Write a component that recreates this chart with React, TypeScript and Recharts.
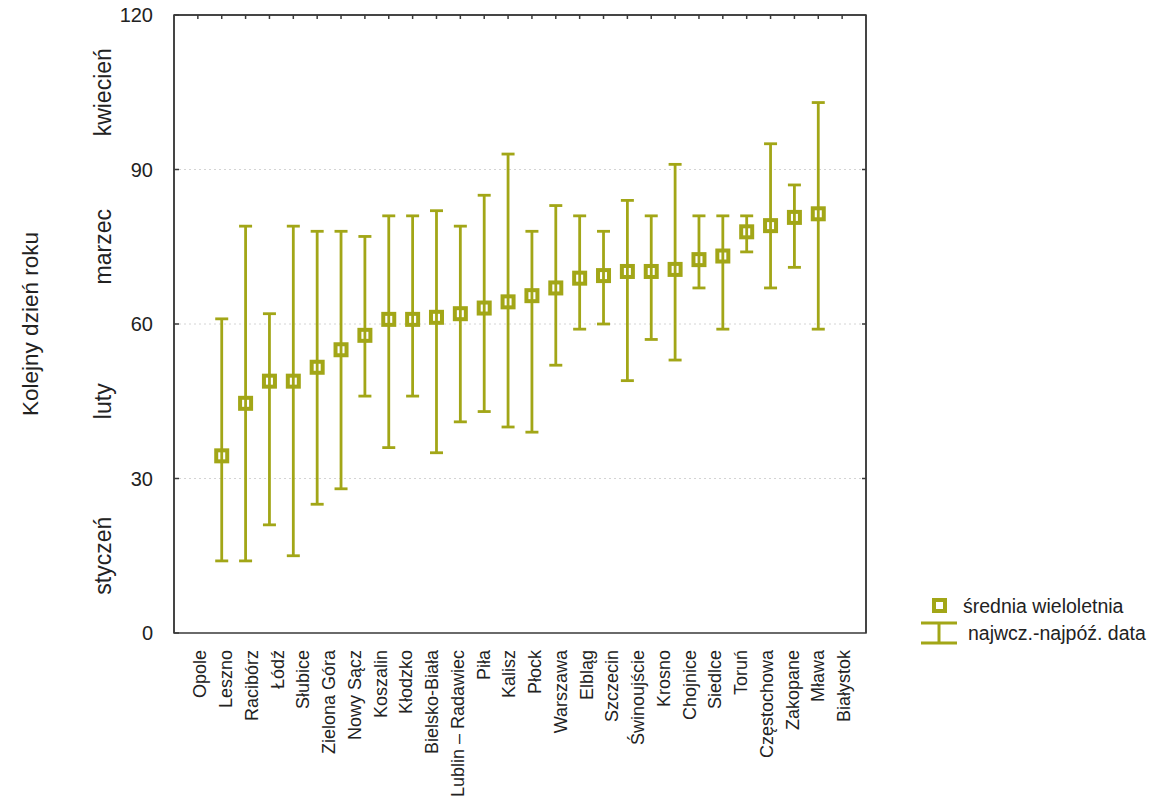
import {
  ComposedChart,
  Scatter,
  ErrorBar,
  XAxis,
  YAxis,
  CartesianGrid,
  ReferenceArea,
  Legend,
  Label,
} from 'recharts'

const OLIVE = '#a2a617'
const TEXT = '#222'
const AXIS = '#3a3a3a'
const FONT = '"Liberation Sans", Arial, sans-serif'

// cities, sorted by the long-term mean day
const CITIES = [
  'Opole', 'Leszno', 'Racibórz', 'Łódź', 'Słubice', 'Zielona Góra',
  'Nowy Sącz', 'Koszalin', 'Kłodzko', 'Bielsko-Biała', 'Lublin – Radawiec',
  'Piła', 'Kalisz', 'Płock', 'Warszawa', 'Elbląg', 'Szczecin', 'Świnoujście',
  'Krosno', 'Chojnice', 'Siedlce', 'Toruń', 'Częstochowa', 'Zakopane',
  'Mława', 'Białystok',
]
const MEAN_DAY = [
  34.4, 44.6, 48.9, 48.9, 51.6, 55.0, 57.8, 60.9, 60.9, 61.3, 62.0, 63.1, 64.3,
  65.5, 67.0, 68.9, 69.4, 70.2, 70.2, 70.6, 72.5, 73.2, 77.9, 79.1, 80.7, 81.4,
]
const EARLIEST_DAY = [
  14, 14, 21, 15, 25, 28, 46, 36, 46, 35, 41, 43, 40,
  39, 52, 59, 60, 49, 57, 53, 67, 59, 74, 67, 71, 59,
]
const LATEST_DAY = [
  61, 79, 62, 79, 78, 78, 77, 81, 81, 82, 79, 85, 93,
  78, 83, 81, 78, 84, 81, 91, 81, 81, 81, 95, 87, 103,
]

const Y_TICKS = [0, 30, 60, 90, 120]
const MONTHS = ['styczeń', 'luty', 'marzec', 'kwiecień']
const MONTH_MIDS = [15, 45, 75, 105]
const SLOT_TICKS = [
  1, 2, 3, 4, 5, 6, 7, 8, 9, 10, 11, 12, 13, 14,
  15, 16, 17, 18, 19, 20, 21, 22, 23, 24, 25, 26, 27, 28,
]

// the original leaves the first slot empty, markers start at slot 2;
// the city names are spread a bit wider than the slots (labelIdx axis)
const data = CITIES.map((name, i) => ({
  slot: i + 2,
  labelIdx: i,
  name,
  mean: MEAN_DAY[i],
  err: [MEAN_DAY[i] - EARLIEST_DAY[i], LATEST_DAY[i] - MEAN_DAY[i]],
}))

function MeanMarker(props: any) {
  const { cx, cy } = props
  return (
    <rect
      x={cx - 5.5}
      y={cy - 5.5}
      width={11}
      height={11}
      fill='none'
      stroke={OLIVE}
      strokeWidth={4}
    />
  )
}

const NoShape = () => <g />

function ValueTick({ x, y, payload }: any) {
  return (
    <g>
      <line x1={x} y1={y} x2={x + 5} y2={y} stroke={AXIS} strokeWidth={1.5} />
      <text x={x - 21} y={y} dy='0.35em' textAnchor='end' fill={TEXT}
        style={{ fontFamily: FONT, fontSize: 20 }}>
        {payload.value}
      </text>
    </g>
  )
}

function MonthTick({ x, y, payload }: any) {
  const i = MONTH_MIDS.indexOf(payload.value)
  return (
    <text x={x} y={y} dy='0.35em' textAnchor='middle' fill={TEXT}
      transform={`rotate(-90 ${x} ${y})`}
      style={{ fontFamily: FONT, fontSize: 23 }}>
      {MONTHS[i]}
    </text>
  )
}

function CityTick({ x, y, payload }: any) {
  const ty = y + 17
  return (
    <text x={x} y={ty} dy='0.35em' textAnchor='end' fill={TEXT}
      transform={`rotate(-90 ${x} ${ty})`}
      style={{ fontFamily: FONT, fontSize: 18 }}>
      {CITIES[payload.value]}
    </text>
  )
}

const BottomTick = ({ x, y }: any) => (
  <line x1={x} y1={y} x2={x} y2={y - 4} stroke={AXIS} strokeWidth={1.5} />
)
const TopTick = ({ x, y }: any) => (
  <line x1={x} y1={y} x2={x} y2={y + 4} stroke={AXIS} strokeWidth={1.5} />
)
const RightTick = ({ x, y }: any) => (
  <line x1={x} y1={y} x2={x - 4} y2={y} stroke={AXIS} strokeWidth={1.5} />
)

function LegendBox() {
  return (
    <svg width={256} height={70} style={{ display: 'block' }}>
      <rect x={34} y={10} width={11} height={11} fill='none' stroke={OLIVE} strokeWidth={4} />
      <text x={63} y={16} dy='0.35em' fill={TEXT} style={{ fontFamily: FONT, fontSize: 19.5 }}>
        średnia wieloletnia
      </text>
      <line x1={21} y1={33} x2={57} y2={33} stroke={OLIVE} strokeWidth={3} />
      <line x1={21} y1={53} x2={57} y2={53} stroke={OLIVE} strokeWidth={3} />
      <line x1={39} y1={33} x2={39} y2={53} stroke={OLIVE} strokeWidth={3} />
      <text x={68} y={43} dy='0.35em' fill={TEXT} style={{ fontFamily: FONT, fontSize: 19.5 }}>
        najwcz.-najpóź. data
      </text>
    </svg>
  )
}

const axisLine = { stroke: AXIS, strokeWidth: 1.5 }

export default function App() {
  return (
    <div style={{ position: 'absolute', left: 0, top: 0, background: '#fff' }}>
      <ComposedChart
        width={1156}
        height={800}
        data={data}
        margin={{ top: 14, right: 289, left: 0, bottom: 0 }}
      >
        <CartesianGrid
          xAxisId='main'
          yAxisId='main'
          vertical={false}
          horizontalValues={[30, 60, 90]}
          stroke='#d4d4d4'
          strokeDasharray='2 3'
        />
        <XAxis
          xAxisId='main'
          type='number'
          dataKey='slot'
          domain={[0, 29]}
          ticks={SLOT_TICKS}
          height={0}
          tickSize={0}
          tickMargin={0}
          tick={BottomTick}
          tickLine={false}
          axisLine={axisLine}
          interval={0}
        />
        <XAxis
          xAxisId='labels'
          type='number'
          dataKey='labelIdx'
          domain={[-1.01, 25.86]}
          ticks={CITIES.map((_, i) => i)}
          height={167}
          tickSize={0}
          tickMargin={0}
          tick={CityTick}
          tickLine={false}
          axisLine={false}
          interval={0}
        />
        <XAxis
          xAxisId='top'
          orientation='top'
          type='number'
          dataKey='slot'
          domain={[0, 29]}
          ticks={SLOT_TICKS}
          height={1}
          tickSize={0}
          tickMargin={0}
          tick={TopTick}
          tickLine={false}
          axisLine={axisLine}
          interval={0}
        />
        <YAxis
          yAxisId='main'
          type='number'
          dataKey='mean'
          domain={[0, 120]}
          ticks={Y_TICKS}
          width={60}
          tickSize={0}
          tickMargin={0}
          tick={ValueTick}
          tickLine={false}
          axisLine={axisLine}
          interval={0}
        />
        <YAxis
          yAxisId='months'
          type='number'
          dataKey='mean'
          domain={[0, 120]}
          ticks={MONTH_MIDS}
          width={114}
          tickSize={0}
          tickMargin={11}
          tick={MonthTick}
          tickLine={false}
          axisLine={false}
          interval={0}
        >
          <Label
            content={({ viewBox }: any) => {
              const cx = viewBox.x + 30
              const cy = viewBox.y + viewBox.height / 2
              return (
                <text x={cx} y={cy} dy='0.35em' textAnchor='middle' fill={TEXT}
                  transform={`rotate(-90 ${cx} ${cy})`}
                  style={{ fontFamily: FONT, fontSize: 22.5 }}>
                  Kolejny dzień roku
                </text>
              )
            }}
          />
        </YAxis>
        <YAxis
          yAxisId='right'
          orientation='right'
          type='number'
          dataKey='mean'
          domain={[0, 120]}
          ticks={[30, 60, 90]}
          width={1}
          tickSize={0}
          tickMargin={0}
          tick={RightTick}
          tickLine={false}
          axisLine={axisLine}
          interval={0}
        />
        {/* plot frame */}
        <ReferenceArea
          xAxisId='main'
          yAxisId='main'
          x1={0}
          x2={29}
          y1={0}
          y2={120}
          fill='none'
          stroke={AXIS}
          strokeWidth={1.5}
        />
        {/* carry the frame and label axes, draw nothing */}
        <Scatter xAxisId='top' yAxisId='right' dataKey='mean'
          shape={NoShape} isAnimationActive={false} />
        <Scatter xAxisId='labels' yAxisId='months' dataKey='mean'
          shape={NoShape} isAnimationActive={false} />
        <Scatter
          xAxisId='main'
          yAxisId='main'
          dataKey='mean'
          shape={MeanMarker}
          isAnimationActive={false}
        >
          <ErrorBar
            dataKey='err'
            direction='y'
            width={6.5}
            strokeWidth={2.8}
            stroke={OLIVE}
            isAnimationActive={false}
          />
        </Scatter>
        <Legend
          layout='vertical'
          align='center'
          verticalAlign='middle'
          wrapperStyle={{ left: 900, top: 590, width: 256, height: 70 }}
          content={() => <LegendBox />}
        />
      </ComposedChart>
    </div>
  )
}
